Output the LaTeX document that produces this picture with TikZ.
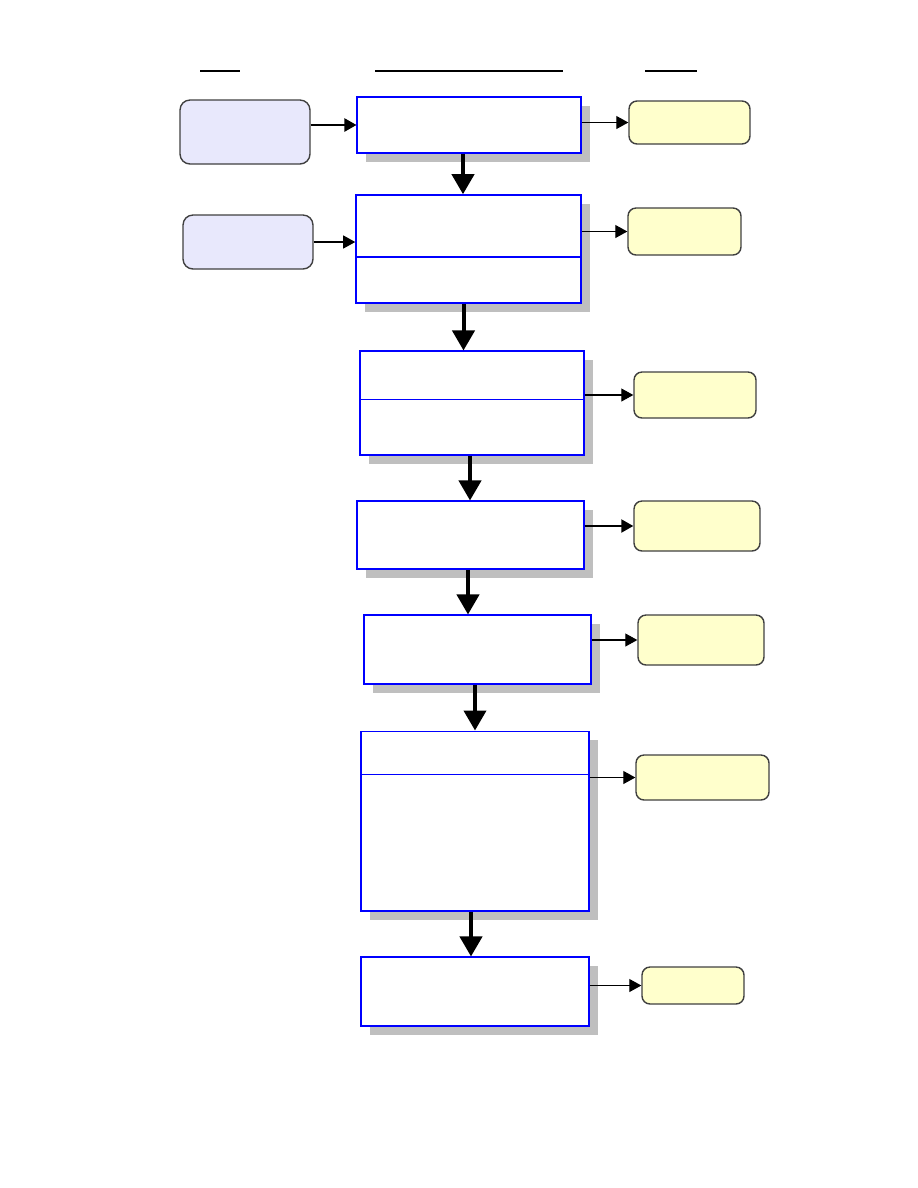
\documentclass[tikz,border=0pt]{standalone}
\usepackage{xcolor}
\usepackage{tikz}
\usetikzlibrary{shapes.geometric, arrows.meta, shadows}

\definecolor{inlilac}{HTML}{E8E8FC}
\definecolor{outcream}{HTML}{FFFFCC}

\begin{document}
\begin{tikzpicture}[x=0.02cm, y=-0.02cm]
    \tikzstyle{procbox} = [rectangle, draw=blue, fill=white, line width=0.6pt, inner sep=0pt, drop shadow={shadow xshift=0.18cm, shadow yshift=-0.18cm, fill=gray!50, opacity=1}]
    \tikzstyle{inbox} = [rectangle, rounded corners=0.2cm, draw=black!75, fill=inlilac, line width=0.8pt, inner sep=0pt]
    \tikzstyle{outbox} = [rectangle, rounded corners=0.16cm, draw=black!75, fill=outcream, line width=0.8pt, inner sep=0pt]
    \tikzstyle{bigarrow} = [line width=0.08cm, -{Triangle[length=0.4cm, width=0.44cm]}]
    \tikzstyle{thinarrow} = [line width=0.6pt, -{Triangle[length=0.24cm, width=0.26cm]}]

    \useasboundingbox (0,0) rectangle (918,1188);

    % column headings
    \draw[line width=0.04cm] (200,71) -- (240,71);
    \draw[line width=0.04cm] (375,71) -- (563,71);
    \draw[line width=0.04cm] (645,71) -- (697,71);

    % inputs
    \node (in1) [inbox, minimum width=2.6cm, minimum height=1.28cm] at (245,132) {};
    \node (in2) [inbox, minimum width=2.6cm, minimum height=1.08cm] at (248,242) {};

    % process steps
    \node (p1) [procbox, minimum width=4.48cm, minimum height=1.12cm] at (469,125) {};
    \node (p2) [procbox, minimum width=4.5cm, minimum height=2.16cm, line width=0.9pt] at (468.5,249) {};
    \node (p3) [procbox, minimum width=4.48cm, minimum height=2.08cm] at (472,403) {};
    \node (p4) [procbox, minimum width=4.54cm, minimum height=1.36cm] at (470.5,535) {};
    \node (p5) [procbox, minimum width=4.54cm, minimum height=1.38cm] at (477.5,649.5) {};
    \node (p6) [procbox, minimum width=4.56cm, minimum height=3.6cm] at (475,821) {};
    \node (p7) [procbox, minimum width=4.56cm, minimum height=1.38cm] at (475,991.5) {};

    % dividers
    \draw[blue, line width=0.9pt] (p2.west |- 0,257) -- (p2.east |- 0,257);
    \draw[blue, line width=0.5pt] (p3.west |- 0,399) -- (p3.east |- 0,399);
    \draw[blue, line width=0.5pt] (p6.west |- 0,774) -- (p6.east |- 0,774);

    % outputs
    \node (out1) [outbox, minimum width=2.42cm, minimum height=0.86cm] at (689.5,122.5) {};
    \node (out2) [outbox, minimum width=2.26cm, minimum height=0.94cm] at (684.5,231.5) {};
    \node (out3) [outbox, minimum width=2.44cm, minimum height=0.92cm] at (695,395) {};
    \node (out4) [outbox, minimum width=2.52cm, minimum height=1.0cm] at (697,526) {};
    \node (out5) [outbox, minimum width=2.52cm, minimum height=1.0cm] at (701,640) {};
    \node (out6) [outbox, minimum width=2.66cm, minimum height=0.9cm] at (702.5,777.5) {};
    \node (out7) [outbox, minimum width=2.04cm, minimum height=0.74cm] at (693,985.5) {};

    % flow
    \draw[bigarrow] ([xshift=-0.12cm]p1.south) -- ([xshift=-0.12cm]p1.south |- p2.north);
    \draw[bigarrow] ([xshift=-0.1cm]p2.south) -- ([xshift=-0.1cm]p2.south |- p3.north);
    \draw[bigarrow] ([xshift=-0.04cm]p3.south) -- ([xshift=-0.04cm]p3.south |- p4.north);
    \draw[bigarrow] ([xshift=-0.05cm]p4.south) -- ([xshift=-0.05cm]p4.south |- p5.north);
    \draw[bigarrow] ([xshift=-0.05cm]p5.south) -- ([xshift=-0.05cm]p5.south |- p6.north);
    \draw[bigarrow] ([xshift=-0.08cm]p6.south) -- ([xshift=-0.08cm]p6.south |- p7.north);

    \draw[thinarrow, line width=1.2pt] (in1.east |- p1.west) -- (p1.west);
    \draw[thinarrow] (in2.east) -- (in2.east -| p2.west);

    \draw[thinarrow] (p1.east |- out1.west) -- (out1.west);
    \draw[thinarrow] (p2.east |- out2.west) -- (out2.west);
    \draw[thinarrow] (p3.east |- out3.west) -- (out3.west);
    \draw[thinarrow, line width=1.2pt] (p4.east |- out4.west) -- (out4.west);
    \draw[thinarrow] (p5.east |- out5.west) -- (out5.west);
    \draw[thinarrow] (p6.east |- out6.west) -- (out6.west);
    \draw[thinarrow] (p7.east |- out7.west) -- (out7.west);
\end{tikzpicture}
\end{document}
